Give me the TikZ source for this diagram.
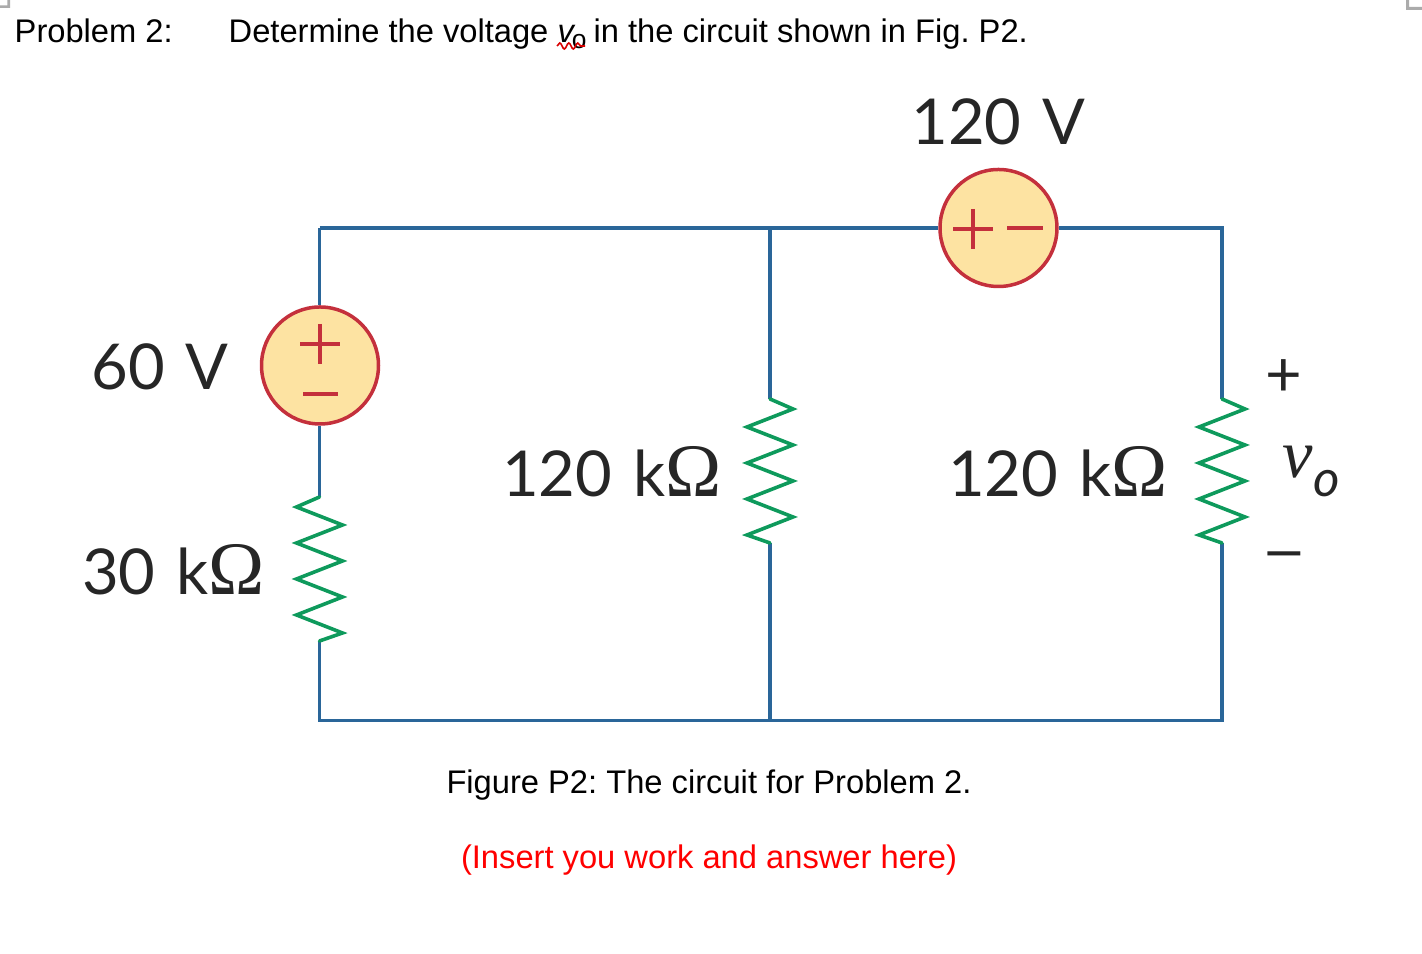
\documentclass[tikz,border=0pt]{standalone}
\usepackage{fontspec}
\usetikzlibrary{decorations.pathmorphing}
\setmainfont{Liberation Sans}
\newfontfamily\labelfont[WordSpace=1.3]{Lato}
\newfontfamily\omegafont{Liberation Serif}
\newfontfamily\voltfont{Liberation Serif Italic}
\definecolor{wireblue}{HTML}{2A6699}
\definecolor{resgreen}{HTML}{0E9A5C}
\definecolor{srcred}{HTML}{C4303C}
\definecolor{srcfill}{HTML}{FDE3A2}
\definecolor{cornergray}{HTML}{ABABAB}
\tikzset{
  wire/.style={draw=wireblue,line width=0.034cm},
  resistor/.style={draw=resgreen,line width=0.036cm,line join=miter,line cap=round},
  source/.style={circle,draw=srcred,fill=srcfill,line width=0.035cm,minimum size=1.17cm,inner sep=0pt},
  sign/.style={draw=srcred,line width=0.032cm},
  value/.style={text=black!85,anchor=base,inner sep=0pt,font=\labelfont\fontsize{18}{20}\selectfont},
  polarity/.style={text=black!85,anchor=center,inner sep=0pt,font=\labelfont\fontsize{18}{20}\selectfont},
  doctext/.style={anchor=base,inner sep=0pt,font=\frenchspacing\fontsize{9.3}{11}\selectfont},
}
\newcommand{\kohm}[1]{#1 k{\omegafont\fontsize{21.5}{22}\selectfont\char"03A9}}
% zigzag from one named point to another, #3 is the side it starts to
\newcommand{\zigzag}[3]{
  \draw[resistor] (#1) -- ++(#3*.23,.10) -- ++(-#3*.46,.18) -- ++(#3*.46,.18) -- ++(-#3*.46,.18)
    -- ++(#3*.46,.18) -- ++(-#3*.46,.18) -- ++(#3*.46,.18) -- ++(-#3*.46,.18) -- (#2);
}
\begin{document}
\begin{tikzpicture}[y=-1cm]
\useasboundingbox (0,0) rectangle (14.22,9.54);

% corner marks of the page
\fill[cornergray] (0,.055) -- (.075,.055) -- (.075,0) -- (.10,0) -- (.10,.08) -- (0,.08) -- cycle;
\fill[cornergray] (14.06,0) -- (14.09,0) -- (14.09,.07) -- (14.22,.07) -- (14.22,.10) -- (14.06,.10) -- cycle;

% heading
\node[doctext,anchor=base west] (problem) at (.14,.43) {Problem 2:};
\node[doctext,anchor=base west] (task) at (2.28,.43) {Determine the voltage {\itshape v}\hspace{-.02cm}\raisebox{-.3ex}{\fontsize{7.5}{8}\selectfont o}\hspace{-.02cm} in the circuit shown in Fig. P2.};
\coordinate (squigA) at (5.57,.46);
\coordinate (squigB) at (5.85,.46);
\draw[red!85!black,line width=.016cm,decorate,decoration={snake,amplitude=.03cm,segment length=.09cm}] (squigA) -- (squigB);

% corners and junctions
\coordinate (tl) at (3.195,2.28);
\coordinate (tm) at (7.70,2.28);
\coordinate (tr) at (12.22,2.28);
\coordinate (bl) at (3.195,7.205);
\coordinate (bm) at (7.70,7.205);
\coordinate (br) at (12.22,7.205);

% resistor ends
\coordinate (r1a) at (3.195,4.97);
\coordinate (r1b) at (3.195,6.41);
\coordinate (r2a) at (7.70,3.99);
\coordinate (r2b) at (7.70,5.43);
\coordinate (r3a) at (12.22,3.99);
\coordinate (r3b) at (12.22,5.43);

% sources
\node[source] (srcleft) at (3.20,3.655) {};
\node[source] (srctop) at (9.985,2.28) {};

% wires
\draw[wire] (tl) -- (srctop);
\draw[wire] (srctop) -- (tr) -- (r3a);
\draw[wire] (tl) -- (tl|-srcleft.north);
\draw[wire] (r1a|-srcleft.south) -- (r1a);
\draw[wire] (r1b) -- (bl) -- (br) -- (r3b);
\draw[wire] (tm) -- (r2a);
\draw[wire] (r2b) -- (bm);

\zigzag{r1a}{r1b}{-1}
\zigzag{r2a}{r2b}{1}
\zigzag{r3a}{r3b}{1}

% signs on the sources
\draw[sign] (3.00,3.44) -- (3.40,3.44);
\draw[sign] (3.20,3.24) -- (3.20,3.64);
\draw[sign] (3.03,3.94) -- (3.38,3.94);
\draw[sign] (9.53,2.29) -- (9.93,2.29);
\draw[sign] (9.73,2.09) -- (9.73,2.49);
\draw[sign] (10.07,2.28) -- (10.43,2.28);

% labels
\node[value] (v120) at (9.985,1.45) {120 V};
\node[value] (v60) at (1.60,3.90) {60 V};
\node[value] (r30) at (1.735,5.95) {\kohm{30}};
\node[value] (r120a) at (6.12,4.97) {\kohm{120}};
\node[value] (r120b) at (10.58,4.97) {\kohm{120}};
\node[polarity] (vplus) at (12.84,3.78) {+};
\node[polarity,xscale=1.3] (vminus) at (12.845,5.62) {–};
\node[value,anchor=base west] (vo) at (12.82,4.78) {{\voltfont\fontsize{19.5}{20}\selectfont v}\raisebox{-.19cm}{\fontsize{14.5}{16}\selectfont\itshape o}};

% caption
\node[doctext] (caption) at (7.09,7.94) {Figure P2: The circuit for Problem 2.};
\node[doctext,text=red] (answer) at (7.09,8.69) {(Insert you work and answer here)};

\end{tikzpicture}
\end{document}
